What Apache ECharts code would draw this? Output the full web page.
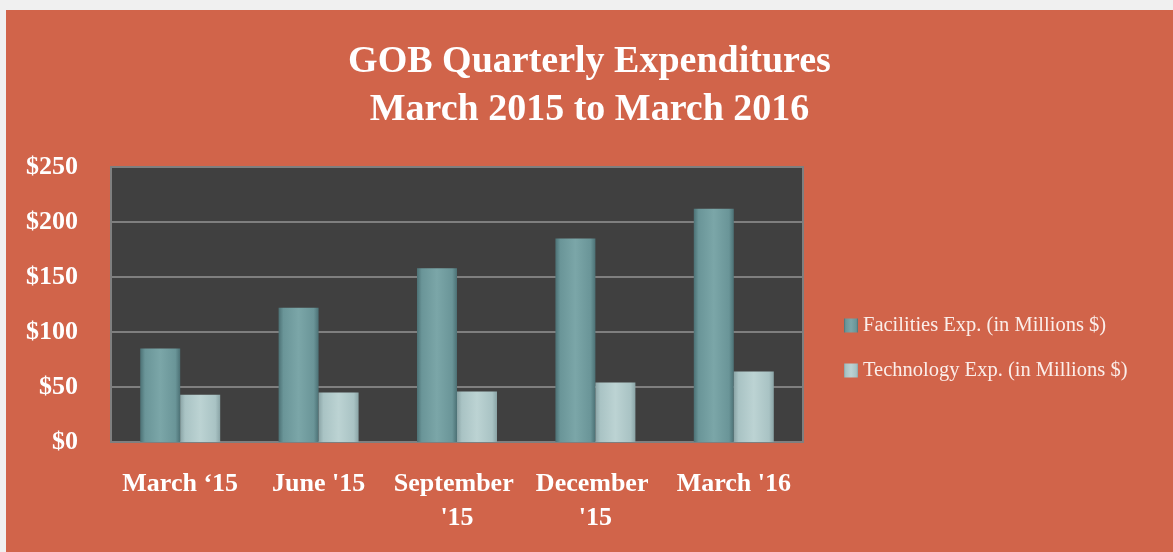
<!DOCTYPE html>
<html lang="en">
<head>
    <meta charset="UTF-8">
    <title>GOB Quarterly Expenditures</title>
    <style>
        body { margin: 0; background: #f0f0f0; }
        #main { position: absolute; left: 6px; top: 10px; width: 1167px; height: 542px; }
    </style>
</head>
<body>
    <div id="main"></div>
    <script src="https://cdn.jsdelivr.net/npm/echarts@6/dist/echarts.min.js"></script>
<script type="text/javascript">
    // 数据
    var quarters = ["March \u201815", "June '15", "September '15", "December '15", "March '16"];
    var facilities = [85, 122, 158, 185, 212];
    var technology = [43, 45, 46, 54, 64];
    var seriesNames = ['Facilities Exp. (in Millions $)', 'Technology Exp. (in Millions $)'];

    var serif = '"Liberation Serif", "DejaVu Serif", serif';

    function barColor(dark, mid, light) {
        return new echarts.graphic.LinearGradient(0, 0, 1, 0, [
            {offset: 0, color: dark},
            {offset: 0.12, color: mid},
            {offset: 0.5, color: light},
            {offset: 0.88, color: mid},
            {offset: 1, color: dark}
        ]);
    }

    var myChart = echarts.init(document.getElementById('main'));

    myChart.setOption({
        backgroundColor: '#d1644a',
        animation: false,
        title: {
            text: 'GOB Quarterly Expenditures\nMarch 2015 to March 2016',
            left: 'center',
            top: 23,
            textStyle: {
                color: '#ffffff',
                fontFamily: serif,
                fontWeight: 'bold',
                fontSize: 38,
                lineHeight: 48
            }
        },
        legend: {
            orient: 'vertical',
            left: 833,
            top: 300,
            itemWidth: 14,
            itemHeight: 14,
            itemGap: 24,
            icon: 'rect',
            data: seriesNames,
            textStyle: {
                color: '#fbeeea',
                fontFamily: serif,
                fontSize: 20.5
            }
        },
        grid: {
            left: 105,
            top: 157,
            width: 692,
            height: 275,
            show: true,
            backgroundColor: '#404040',
            borderColor: '#7f7f7f',
            borderWidth: 2
        },
        xAxis: {
            type: 'category',
            data: quarters,
            axisLine: {show: false},
            axisTick: {show: false},
            axisLabel: {
                color: '#ffffff',
                fontFamily: serif,
                fontWeight: 'bold',
                fontSize: 26,
                lineHeight: 34,
                margin: 25,
                width: 136,
                overflow: 'break',
                interval: 0
            }
        },
        yAxis: {
            type: 'value',
            min: 0,
            max: 250,
            interval: 50,
            axisLine: {show: false},
            axisTick: {show: false},
            splitLine: {lineStyle: {color: '#7f7f7f', width: 2}},
            axisLabel: {
                color: '#ffffff',
                fontFamily: serif,
                fontWeight: 'bold',
                fontSize: 26,
                margin: 33,
                formatter: '${value}'
            }
        },
        series: [
            {
                name: seriesNames[0],
                type: 'bar',
                data: facilities,
                barWidth: 40,
                barGap: '0%',
                itemStyle: {
                    color: barColor('#4c7175', '#6a9598', '#7ba6a8')
                }
            },
            {
                name: seriesNames[1],
                type: 'bar',
                data: technology,
                barWidth: 40,
                barGap: '0%',
                itemStyle: {
                    color: barColor('#8aa4a6', '#a9c3c4', '#bcd3d3')
                }
            }
        ]
    });
</script>
</body>
</html>
